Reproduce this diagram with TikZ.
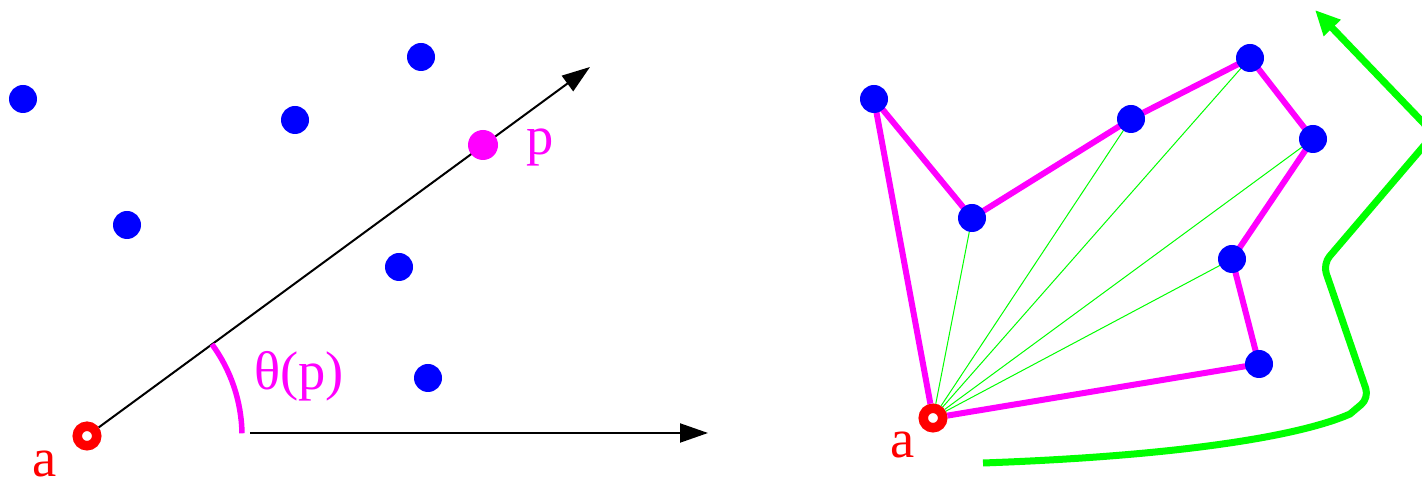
\documentclass[tikz,border=0pt]{standalone}
\usepackage{fontspec}
\setmainfont{Liberation Serif}
\usepackage{xcolor}
\definecolor{CBlue}{HTML}{0000FF}
\definecolor{CMagenta}{HTML}{FF00FF}
\definecolor{CRed}{HTML}{FF0000}
\definecolor{CGreen}{HTML}{00FF00}
\usepackage{tikz}
\usetikzlibrary{arrows.meta}
\tikzstyle{blueDot}=[circle, fill=CBlue, inner sep=0pt, minimum size=5.6mm]
\tikzstyle{pointDot}=[circle, fill=CMagenta, inner sep=0pt, minimum size=6mm]
\tikzstyle{anchorRing}=[circle, draw=CRed, fill=white, line width=1.9mm, inner sep=0pt, minimum size=3.9mm]
\tikzstyle{labelText}=[font=\fontsize{31}{36}\selectfont, inner sep=0pt]
\tikzstyle{arr}=[-{Triangle[length=5.6mm,width=3.8mm]}, line width=0.4mm, draw=black]
\tikzstyle{hullEdge}=[draw=CMagenta, line width=1.2mm, line join=round]
\tikzstyle{fanEdge}=[draw=CGreen, line width=0.2mm]
\tikzstyle{sweepPath}=[draw=CGreen, line width=1.4mm, -{Triangle[length=5mm,width=4.4mm]}]

\begin{document}
\begin{tikzpicture}[x=0.2mm, y=0.2mm]
\useasboundingbox (0,0) rectangle (1422,486);
\clip (0,0) rectangle (1422,486);

% left: polar angle of p seen from a
\node[anchorRing] (a) at (87,50) {};
\coordinate (rayEnd) at (590,419);
\coordinate (baseStart) at (250,53);
\coordinate (baseEnd) at (708,53);
\draw[arr] (a) -- (rayEnd);
\draw[arr] (baseStart) -- (baseEnd);
\draw[CMagenta, line width=1.1mm] ([shift={(1:155)}]a.center) arc[start angle=1, end angle=36.3, radius=155];
\node[pointDot] (p) at (483,341) {};
\foreach \pos [count=\i] in {(23,387),(421,429),(295,366),(127,261),(399,219),(428,108)}
  \node[blueDot] (b\i) at \pos {};
\node[labelText, text=CRed] (aLabel) at (45,22) {a};
\node[labelText, text=CMagenta] (pLabel) at (540,339) {p};
\node[labelText, text=CMagenta] (thetaLabel) at (299,110) {θ(p)};

% right: sorted polygon and sweep
\node[anchorRing] (ringA) at (933,68) {};
\coordinate (q1) at (874,387);
\coordinate (q2) at (972,268);
\coordinate (q3) at (1131,367);
\coordinate (q4) at (1250,428);
\coordinate (q5) at (1313,347);
\coordinate (q6) at (1232,227);
\coordinate (q7) at (1259,122);
\foreach \i in {2,...,6}
  \draw[fanEdge] (ringA) -- (q\i);
\draw[hullEdge] (ringA) -- (q1) -- (q2) -- (q3) -- (q4) -- (q5) -- (q6) -- (q7) -- (ringA);
\foreach \i in {1,...,7}
  \node[blueDot] (dq\i) at (q\i) {};
\node[labelText, text=CRed] (ringLabel) at (903,41) {a};

\coordinate (sweepStart) at (983,23);
\coordinate (sweepTip) at (1315,476);
\draw[sweepPath] (sweepStart) .. controls (1180,30) and (1300,50) .. (1350,72)
  [rounded corners=2mm] -- (1369,88) -- (1323,222) -- (1434,352) -- (sweepTip);
\end{tikzpicture}
\end{document}
